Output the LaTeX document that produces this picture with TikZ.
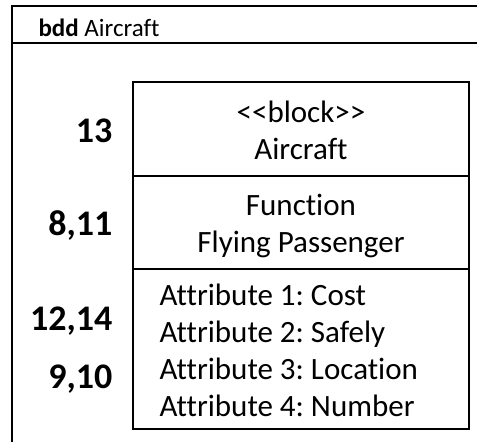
\documentclass[tikz,border=0pt]{standalone}
\usepackage{fontspec}
\setmainfont{Carlito}[Ligatures={NoCommon,NoContextual}]
\usetikzlibrary{positioning}
\frenchspacing

\begin{document}
\begin{tikzpicture}[x=1pt, y=-1pt,
    frame/.style={draw=black, line width=2.4pt},
    part/.style={rectangle, draw=black, line width=1.6pt, minimum width=336pt, inner sep=0pt, outer sep=0pt},
    body/.style={font=\fontsize{31}{37}\selectfont},
    num/.style={anchor=base east, font=\fontsize{36}{40}\selectfont\bfseries}]

    \useasboundingbox (0,0) rectangle (477,442);
    \clip (0,0) rectangle (477,442);

    % Frame
    \coordinate (fbl) at (12,460);
    \coordinate (ftl) at (12,6);
    \coordinate (ftr) at (490,6);
    \coordinate (hl) at (12,43);
    \coordinate (hr) at (490,43);
    \draw [frame] (fbl) -- (ftl) -- (ftr);
    \draw [frame] (hl) -- (hr);
    \node [anchor=base west, font=\fontsize{25}{30}\selectfont] at (35,36) (title) {\textbf{bdd} Aircraft};

    % Block compartments
    \node [part, minimum height=94pt, anchor=north] at (301,82) (head) {};
    \node [part, minimum height=93pt, below=0pt of head] (func) {};
    \node [part, minimum height=160pt, below=0pt of func] (attr) {};

    % Compartment texts
    \node [body, align=center] at (301,130) (stereo) {<\kern0pt<block>\kern0pt>\\Aircraft};
    \node [body, align=center] at (301,226) (funcname) {Function\\Flying Passenger};
    \node [body, align=left, anchor=west] at (156,350) (attrs) {Attribute 1: Cost\\Attribute 2: Safely\\Attribute 3: Location\\Attribute 4: Number};

    % Requirement numbers
    \node [num] at (116,142) (n13) {13};
    \node [num] at (116,235) (n811) {8,11};
    \node [num] at (116,330) (n1214) {12,14};
    \node [num] at (116,388) (n910) {9,10};

\end{tikzpicture}
\end{document}
